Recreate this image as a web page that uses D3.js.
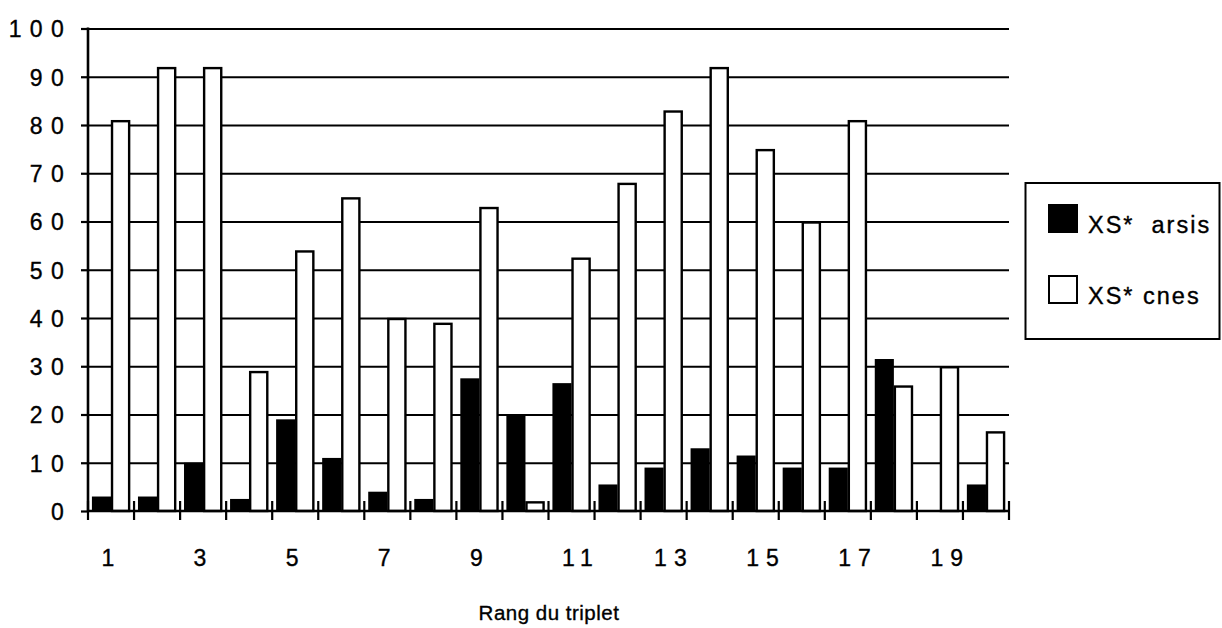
<!DOCTYPE html>
<html>
<head>
<meta charset="utf-8">
<script src="https://cdn.jsdelivr.net/npm/d3@7"></script>
<style>
  html, body { margin: 0; padding: 0; background: #fff; }
  svg { display: block; }
  text { font-family: "Liberation Sans", Arial, Helvetica, sans-serif; fill: #000; stroke: #000; stroke-width: 0.35px; }
</style>
</head>
<body>
<svg id="chart" width="1222" height="628"></svg>
<script>
// ---- data ----
const categories = [1,2,3,4,5,6,7,8,9,10,11,12,13,14,15,16,17,18,19,20];
const arsis = [3, 3, 10, 2.5, 19, 11, 4, 2.5, 27.5, 20, 26.5, 5.5, 9, 13, 11.5, 9, 9, 31.5, 0, 5.5];
const cnes  = [81, 92, 92, 29, 54, 65, 40, 39, 63, 2, 52.5, 68, 83, 92, 75, 60, 81, 26, 30, 16.5];
const seriesNames = ["XS*  arsis", "XS* cnes"];
const yTicks = [0, 10, 20, 30, 40, 50, 60, 70, 80, 90, 100];
const xLabelCats = [1, 3, 5, 7, 9, 11, 13, 15, 17, 19];
const xTitle = "Rang du triplet";

// ---- layout ----
const svg = d3.select("#chart");
const pLeft = 88, pRight = 1009, pTop = 28.5, pBottom = 511;

const x0 = d3.scaleBand().domain(categories).range([pLeft, pRight])
  .paddingInner(0.17).paddingOuter(0.085);
const x1 = d3.scaleBand().domain(["arsis", "cnes"]).range([0, x0.bandwidth()]);
const y = d3.scaleLinear().domain([0, 100]).range([pBottom, pTop]);

// gridlines
const grid = svg.append("g").attr("transform", `translate(${pLeft},0)`)
  .call(d3.axisLeft(y).tickValues(yTicks.filter(d => d > 0)).tickSize(-(pRight - pLeft)).tickFormat(""));
grid.select(".domain").remove();
grid.selectAll("line").attr("stroke", "#000").attr("stroke-width", 2.2);

// bars
const rows = categories.map((c, i) => ({ c, arsis: arsis[i], cnes: cnes[i] }));
const groups = svg.append("g").selectAll("g").data(rows).join("g")
  .attr("transform", d => `translate(${x0(d.c)},0)`);
groups.append("rect")
  .attr("x", x1("arsis")).attr("width", x1.bandwidth())
  .attr("y", d => y(d.arsis)).attr("height", d => y(0) - y(d.arsis))
  .attr("fill", "#000");
groups.filter(d => d.cnes > 0).append("rect")
  .attr("x", x1("cnes") + 1).attr("width", x1.bandwidth() - 2)
  .attr("y", d => y(d.cnes) + 1).attr("height", d => y(0) - y(d.cnes) - 1)
  .attr("fill", "#fff").attr("stroke", "#000").attr("stroke-width", 2.4);

// y axis
const yAxis = svg.append("g").attr("transform", `translate(${pLeft},0)`)
  .call(d3.axisLeft(y).tickValues(yTicks).tickSize(7).tickPadding(0).tickFormat(d3.format("d")));
yAxis.select(".domain").attr("stroke", "#000").attr("stroke-width", 2.6)
  .attr("d", `M0,${pBottom + 1}V${pTop - 1}`);
yAxis.selectAll(".tick line").attr("stroke", "#000").attr("stroke-width", 2.2);
yAxis.selectAll(".tick text")
  .attr("x", -16).attr("dy", "0.36em")
  .style("font-size", "23px").style("letter-spacing", "8.3px")
  .attr("text-anchor", "end").attr("fill", "#000");

// x axis baseline
svg.append("line").attr("x1", pLeft - 1).attr("x2", pRight + 1)
  .attr("y1", y(0)).attr("y2", y(0)).attr("stroke", "#000").attr("stroke-width", 2.6);

// x ticks at band boundaries
const step = x0.step();
const half = step * x0.paddingInner() / 2;
const boundaries = categories.map(c => x0(c) - half).concat([x0(categories[categories.length - 1]) + x0.bandwidth() + half]);
svg.append("g").selectAll("line").data(boundaries).join("line")
  .attr("x1", d => d).attr("x2", d => d)
  .attr("y1", y(0) - 10).attr("y2", y(0) + 9)
  .attr("stroke", "#000").attr("stroke-width", 2.2);

// x labels
svg.append("g").selectAll("text").data(xLabelCats).join("text")
  .attr("x", d => x0(d) - half + 13.5)
  .attr("y", 566)
  .style("font-size", "23px").style("letter-spacing", "7px")
  .text(d => String(d));

// x title
svg.append("text").attr("x", 549).attr("y", 620).attr("text-anchor", "middle")
  .style("font-size", "20.5px").style("letter-spacing", "0.5px")
  .text(xTitle);

// legend
const lg = svg.append("g");
lg.append("rect").attr("x", 1025.5).attr("y", 183).attr("width", 194).attr("height", 156)
  .attr("fill", "#fff").attr("stroke", "#000").attr("stroke-width", 2);
const legendItems = [
  { name: seriesNames[0], fill: "#000", y: 205 },
  { name: seriesNames[1], fill: "#fff", y: 276 }
];
legendItems.forEach(it => {
  lg.append("rect").attr("x", 1049).attr("y", it.y).attr("width", 28).attr("height", 27)
    .attr("fill", it.fill).attr("stroke", "#000").attr("stroke-width", 2);
  lg.append("text").attr("x", 1088).attr("y", it.y + 28)
    .style("font-size", "23.5px").style("letter-spacing", "2px")
    .style("white-space", "pre")
    .text(it.name);
});
</script>
</body>
</html>
